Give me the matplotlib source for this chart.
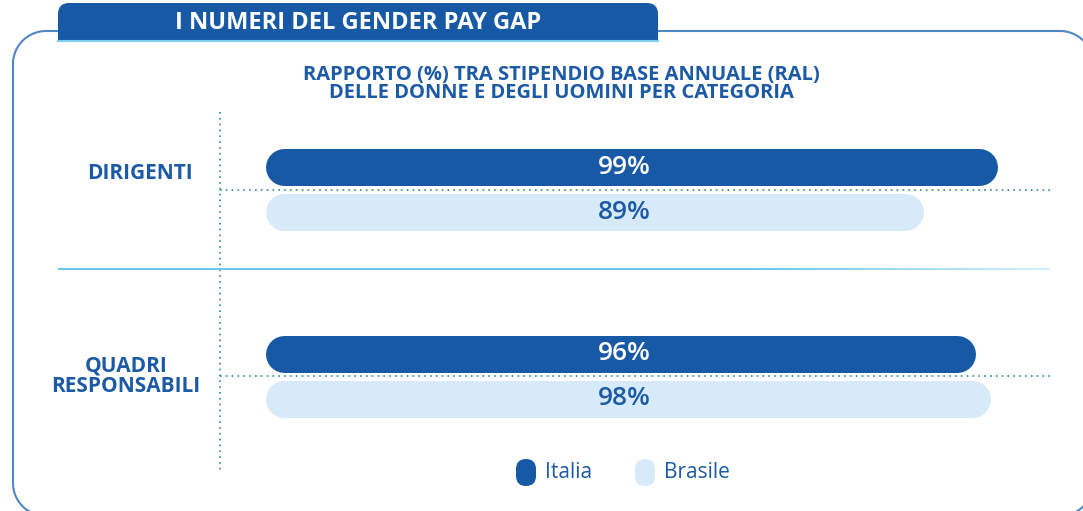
import numpy as np
import matplotlib.pyplot as plt
from matplotlib.patches import FancyBboxPatch, Rectangle
from matplotlib.collections import LineCollection
import matplotlib.transforms as mtransforms

# data
categories = ["DIRIGENTI", "QUADRI\nRESPONSABILI"]
series = ["Italia", "Brasile"]
italia = [99, 96]
brasile = [89, 98]

title = "I NUMERI DEL GENDER PAY GAP"
subtitle = "RAPPORTO (%) TRA STIPENDIO BASE ANNUALE (RAL)\nDELLE DONNE E DEGLI UOMINI PER CATEGORIA"

DARK = "#1859a6"
LIGHT = "#d7eaf9"
TEXT = "#1c5aa6"
FRAME = "#4f86c6"
DOTS = "#2f8a99"

W, H = 1083, 511
plt.rcParams['font.family'] = ['Open Sans', 'DejaVu Sans']

fig = plt.figure(figsize=(W / 100, H / 100), dpi=100)

# background axes in pixel units (y from top)
bg = fig.add_axes([0, 0, 1, 1])
bg.set_xlim(0, W)
bg.set_ylim(H, 0)
bg.axis('off')


def rounded_frame(x0, y0, x1, y1, rad):
    t = np.linspace(0, np.pi / 2, 30)
    px, py = [], []
    # top-left, top-right, bottom-right, bottom-left corners
    corners = [(x0 + rad, y0 + rad, np.pi), (x1 - rad, y0 + rad, 1.5 * np.pi),
               (x1 - rad, y1 - rad, 0), (x0 + rad, y1 - rad, 0.5 * np.pi)]
    for cx, cy, a0 in corners:
        px.extend(cx + rad * np.cos(a0 + t))
        py.extend(cy + rad * np.sin(a0 + t))
    px.append(px[0])
    py.append(py[0])
    return px, py


fx, fy = rounded_frame(13, 31, 1093, 516, 33)
bg.plot(fx, fy, color=FRAME, lw=1.5)

# header tab
bg.add_patch(FancyBboxPatch((58, 3), 600, 39, boxstyle="round,pad=0,rounding_size=11",
                            fc=DARK, ec='none', zorder=3))
bg.add_patch(Rectangle((58, 20), 600, 22, fc=DARK, ec='none', zorder=3))
bg.plot([58, 658], [41.5, 41.5], color='#7fd0f0', lw=1.5, zorder=4)
bg.text(358, 23, title, color='white', fontsize=17, fontweight='bold',
        ha='center', va='center', zorder=5)

# subtitle
bg.text(561, 84, subtitle, color=TEXT, fontsize=14.5, fontweight='bold',
        ha='center', va='center', linespacing=0.88)

# vertical dotted axis line
bg.plot([220, 220], [112, 472], color=DOTS, lw=1.2, ls=(0, (1, 2.5)))

# separator line with fade to the right
xs = np.linspace(58, 1050, 60)
segs = [[(xs[k], 269), (xs[k + 1], 269)] for k in range(len(xs) - 1)]
fade = np.clip((1050 - xs[:-1]) / 300, 0, 1)
cols = [(0.42, 0.78, 0.92, 0.25 + 0.75 * f) for f in fade]
bg.add_collection(LineCollection(segs, colors=cols, linewidths=1.5))

# bar axes
ax = fig.add_axes([265 / W, (H - 488) / H, 740 / W, 410 / H])
ax.set_xlim(0, 100)
ax.set_ylim(1.6, -0.6)
ax.axis('off')

px_x = 740 / 100
bar_px = 37
lw = bar_px * 0.72
r = bar_px / 2 / px_x
offs = [-0.12, 0.12]
colors = [DARK, LIGHT]
txt_colors = ['white', TEXT]

blend = mtransforms.blended_transform_factory(bg.transData, ax.transData)

for i in range(len(categories)):
    # dotted line at category center
    ax.plot([220, 1053], [i, i], transform=blend, color=DOTS, lw=1.2,
            ls=(0, (1, 2.5)), clip_on=False, zorder=1)
    for j, vals in enumerate([italia, brasile]):
        v = vals[i]
        y = i + offs[j]
        ax.plot([r, v - r], [y, y], color=colors[j], lw=lw,
                solid_capstyle='round', clip_on=False, zorder=2)
        ax.text(48.5, y, f"{v}%", color=txt_colors[j], fontsize=19,
                fontweight='semibold', ha='center', va='center', zorder=3)

# category labels
label_x = [140, 126]
label_dy = [-0.085, 0.0]
for i, cat in enumerate(categories):
    ax.text(label_x[i], i + label_dy[i], cat, transform=blend, color=TEXT,
            fontsize=15, fontweight='bold', ha='center', va='center',
            linespacing=1.0, clip_on=False)

# legend
leg_x = [516, 635]
for j, name in enumerate(series):
    bg.add_patch(FancyBboxPatch((leg_x[j], 459), 20, 27, boxstyle="round,pad=0,rounding_size=10",
                                fc=colors[j], ec='none'))
    bg.text(leg_x[j] + 29, 473, name, color=TEXT, fontsize=15,
            ha='left', va='center')

fig.savefig("out.png", dpi=100)
